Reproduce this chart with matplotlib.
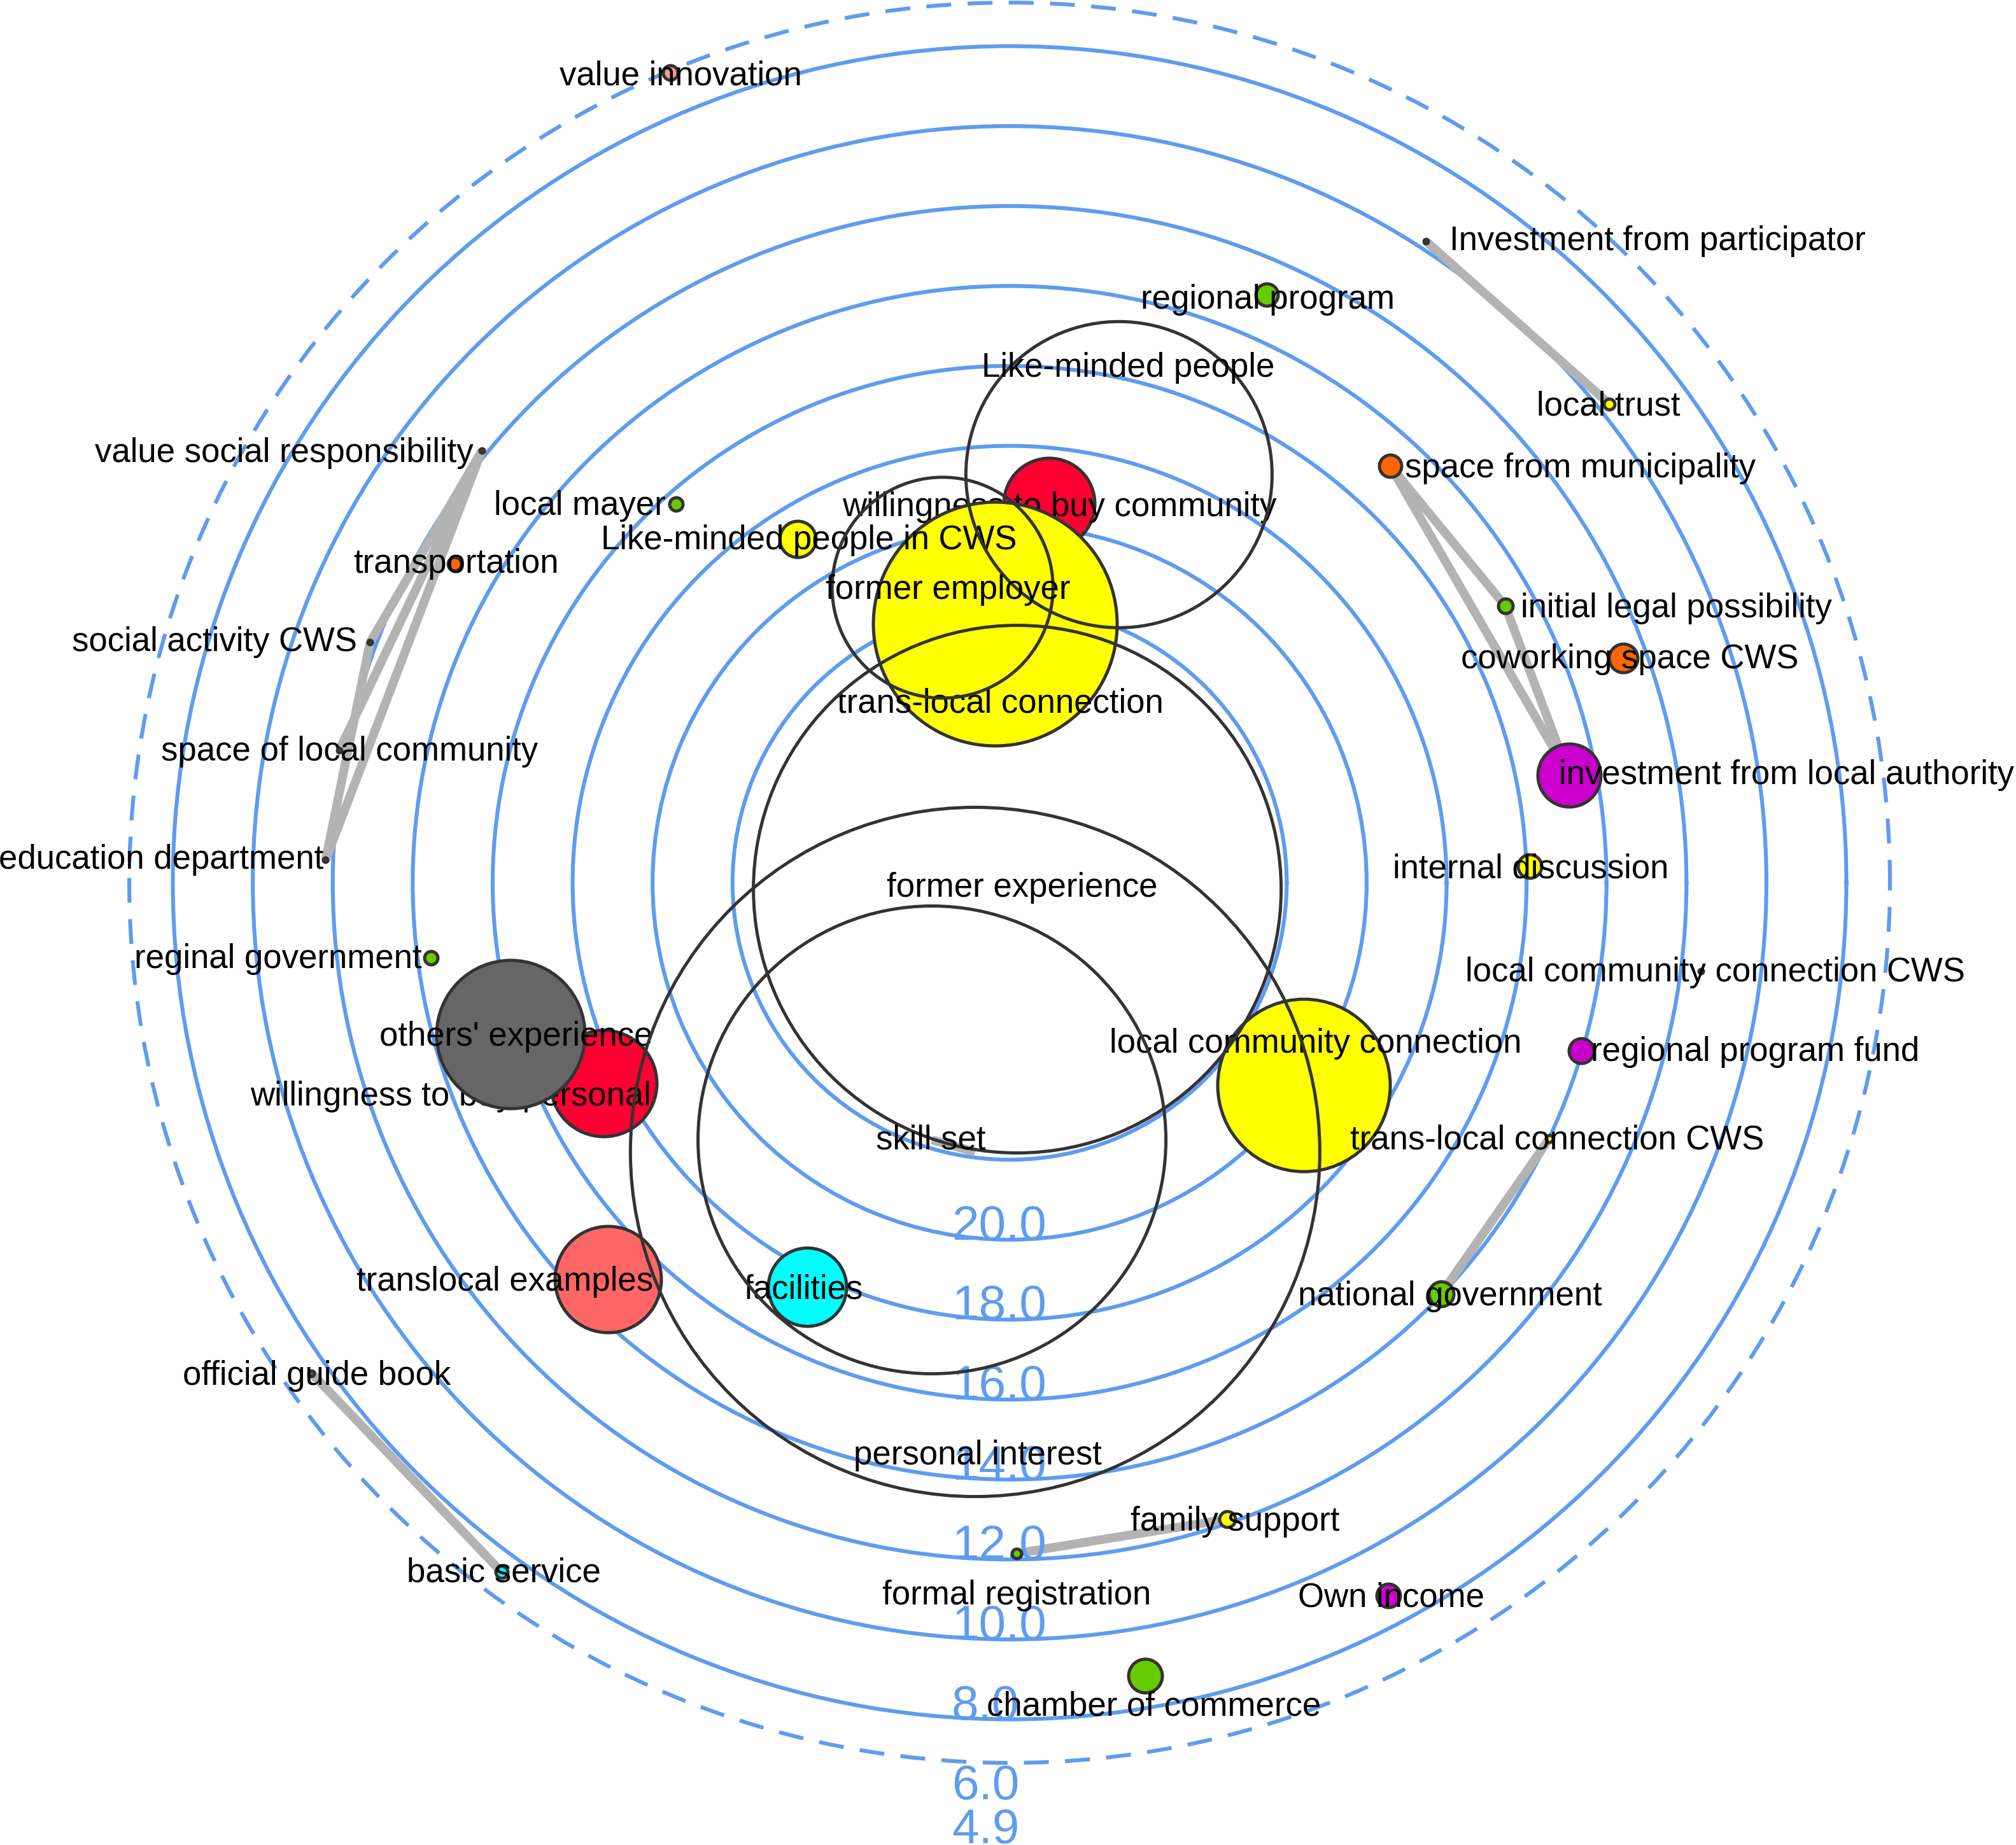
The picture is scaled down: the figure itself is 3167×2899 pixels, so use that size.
import numpy as np
import matplotlib
matplotlib.use('Agg')
import matplotlib.pyplot as plt

plt.rcParams['font.family'] = ['Liberation Sans', 'DejaVu Sans']

# node data: radial score, angle (degrees), bubble size, group
names = ['value innovation', 'Investment from participator', 'regional program', 'local trust',
         'space from municipality', 'local mayer', 'willingness to buy community',
         'Like-minded people in CWS', 'former employer', 'Like-minded people',
         'trans-local connection', 'transportation', 'value social responsibility',
         'social activity CWS', 'space of local community', 'education department',
         'reginal government', "others' experience", 'willingness to buy personal',
         'translocal examples', 'facilities', 'official guide book', 'basic service',
         'former experience', 'skill set', 'personal interest', 'local community connection',
         'initial legal possibility', 'coworking space CWS', 'investment from local authority',
         'internal discussion', 'local community connection CWS', 'regional program fund',
         'trans-local connection CWS', 'national government', 'family support',
         'formal registration', 'Own income', 'chamber of commerce']

score = [6.95, 9.80, 12.87, 9.73, 14.81, 16.31, 19.39, 18.83, 21.36, 18.36,
         22.44, 12.92, 11.87, 11.84, 11.84, 11.81, 14.33, 15.89, 17.60, 14.81,
         17.62, 7.59, 7.51, 28.68, 22.21, 22.14, 20.00, 14.73, 12.59, 14.68,
         15.92, 11.50, 14.02, 13.99, 14.02, 12.10, 12.15, 8.74, 8.81]

angle = [112.7, 57.0, 66.4, 38.6, 47.6, 131.4, 84.1, 121.7, 102.8, 75.0,
         93.2, 150.1, 140.7, 159.4, 168.8, 178.1, 187.4, 196.9, 206.3, 224.6,
         243.4, 215.1, 233.6, 320.2, 253.2, 262.7, 325.5, 29.2, 20.1, 10.9,
         1.8, 352.7, 343.6, 334.6, 316.4, 288.9, 270.6, 298.0, 279.7]

bubble = [1.4, 0.6, 2.0, 1.1, 2.0, 1.3, 7.4, 3.1, 17.6, 24.3,
          19.4, 1.3, 0.6, 0.6, 0.6, 0.6, 1.3, 11.9, 8.6, 8.6,
          6.4, 0.7, 1.2, 41.7, 37.0, 54.4, 13.8, 1.4, 2.5, 5.2,
          2.1, 0.6, 2.2, 0.8, 2.2, 1.5, 1.0, 2.1, 2.9]

group = ['value', 'minor', 'public', 'network', 'space', 'public', 'will', 'network', 'core', 'core',
         'network', 'space', 'minor', 'minor', 'minor', 'minor', 'public', 'experience', 'will', 'example',
         'service', 'minor', 'service', 'core', 'core', 'core', 'network', 'public', 'space', 'money',
         'network', 'network', 'money', 'network', 'public', 'network', 'public', 'money', 'public']

edges = [('Investment from participator', 'local trust'),
         ('space from municipality', 'initial legal possibility'),
         ('initial legal possibility', 'investment from local authority'),
         ('space from municipality', 'investment from local authority'),
         ('trans-local connection CWS', 'national government'),
         ('formal registration', 'family support'),
         ('official guide book', 'basic service'),
         ('value social responsibility', 'social activity CWS'),
         ('value social responsibility', 'space of local community'),
         ('value social responsibility', 'education department'),
         ('social activity CWS', 'education department'),
         ('skill set', 'personal interest')]

rings = [22, 20, 18, 16, 14, 12, 10, 8]
tick_vals = [20, 18, 16, 14, 12, 10, 8, 6, 4.9]

# drawing order of the groups (later groups cover earlier ones)
group_order = ['will', 'experience', 'network', 'public', 'space', 'money',
               'service', 'example', 'value', 'minor', 'core']
colors = {'value': '#FF9999', 'minor': '#666666', 'public': '#66CC00', 'network': '#FFFF00',
          'space': '#FF6600', 'will': '#FF0033', 'core': 'none', 'experience': '#666666',
          'example': '#FF6666', 'service': '#00FFFF', 'money': '#CC00CC'}

# label offsets from node centre (screen px of the small preview)
label_off = {
    'value innovation': (8, 3), 'Investment from participator': (180, 0),
    'regional program': (1, 4), 'local trust': (-1, 2), 'space from municipality': (148, 2),
    'local mayer': (-75, 1), 'willingness to buy community': (8, 3),
    'Like-minded people in CWS': (9, 1), 'former employer': (4, 2),
    'Like-minded people': (7, -83), 'trans-local connection': (4, 62),
    'transportation': (1, 0), 'value social responsibility': (-154, 2),
    'social activity CWS': (-121, 0), 'space of local community': (8, 1),
    'education department': (-128, 0), 'reginal government': (-119, 1),
    "others' experience": (4, 2), 'willingness to buy personal': (-119, 10),
    'translocal examples': (-80, 2), 'facilities': (-3, 2), 'official guide book': (4, 2),
    'basic service': (2, 1), 'former experience': (4, -1), 'skill set': (-1, 0),
    'personal interest': (2, 236), 'local community connection': (9, -32),
    'initial legal possibility': (133, 2), 'coworking space CWS': (5, 1),
    'investment from local authority': (169, 0), 'internal discussion': (1, 2),
    'local community connection CWS': (11, 1), 'regional program fund': (135, 1),
    'trans-local connection CWS': (6, 1), 'national government': (7, 2),
    'family support': (6, 2), 'formal registration': (0, 33), 'Own income': (2, 2),
    'chamber of commerce': (7, 24)}

blue = '#5E9CEF'
DPI = 100
px2pt = 72 / DPI
k = 2.0198 * px2pt

fig = plt.figure(figsize=(31.67, 28.99), dpi=DPI)
ax = fig.add_axes([0.0641, 0.0445, 0.8734, 0.9541], projection='polar')
ax.set_theta_zero_location('E')
ax.set_ylim(28.93, 6.91)
ax.set_xticks([])
ax.set_yticks(rings)
ax.set_yticklabels([])
ax.tick_params(axis='y', length=0)
ax.yaxis.grid(True, color=blue, linewidth=4.4, linestyle='-')
ax.xaxis.grid(False)
ax.spines['polar'].set_color(blue)
ax.spines['polar'].set_linewidth(4.4)
ax.spines['polar'].set_linestyle((0, (5.4, 5.2)))
ax.set_axisbelow(True)

theta = np.deg2rad(angle)
idx = {n: i for i, n in enumerate(names)}

for a, b in edges:
    i, j = idx[a], idx[b]
    ax.plot([theta[i], theta[j]], [score[i], score[j]], color='#B3B3B3',
            linewidth=10, solid_capstyle='butt', zorder=2, clip_on=False)

for g_i, g in enumerate(group_order):
    members = [i for i in np.argsort(bubble) if group[i] == g]
    z = 3 + 2 * g_i
    for i in members:
        r_px = bubble[i] * 10
        d_pt = 2 * r_px * px2pt - 3.6
        ax.scatter(theta[i], score[i], s=d_pt ** 2, facecolors=colors[g],
                   edgecolors='#333333', linewidths=3.6, zorder=z, clip_on=False)
    for i in members:
        dx, dy = label_off[names[i]]
        ax.annotate(names[i], xy=(theta[i], score[i]), xytext=(dx * k, -dy * k),
                    textcoords='offset points', ha='center', va='center',
                    fontsize=38, color='black', zorder=z + 1, annotation_clip=False)

for v in tick_vals:
    ax.annotate('%.1f' % v, xy=(np.deg2rad(270), v), xytext=(-65.5, 0),
                textcoords='offset points', ha='left', va='baseline',
                fontsize=55, color=blue, zorder=2.5, annotation_clip=False)

fig.savefig('out.png', dpi=DPI)
